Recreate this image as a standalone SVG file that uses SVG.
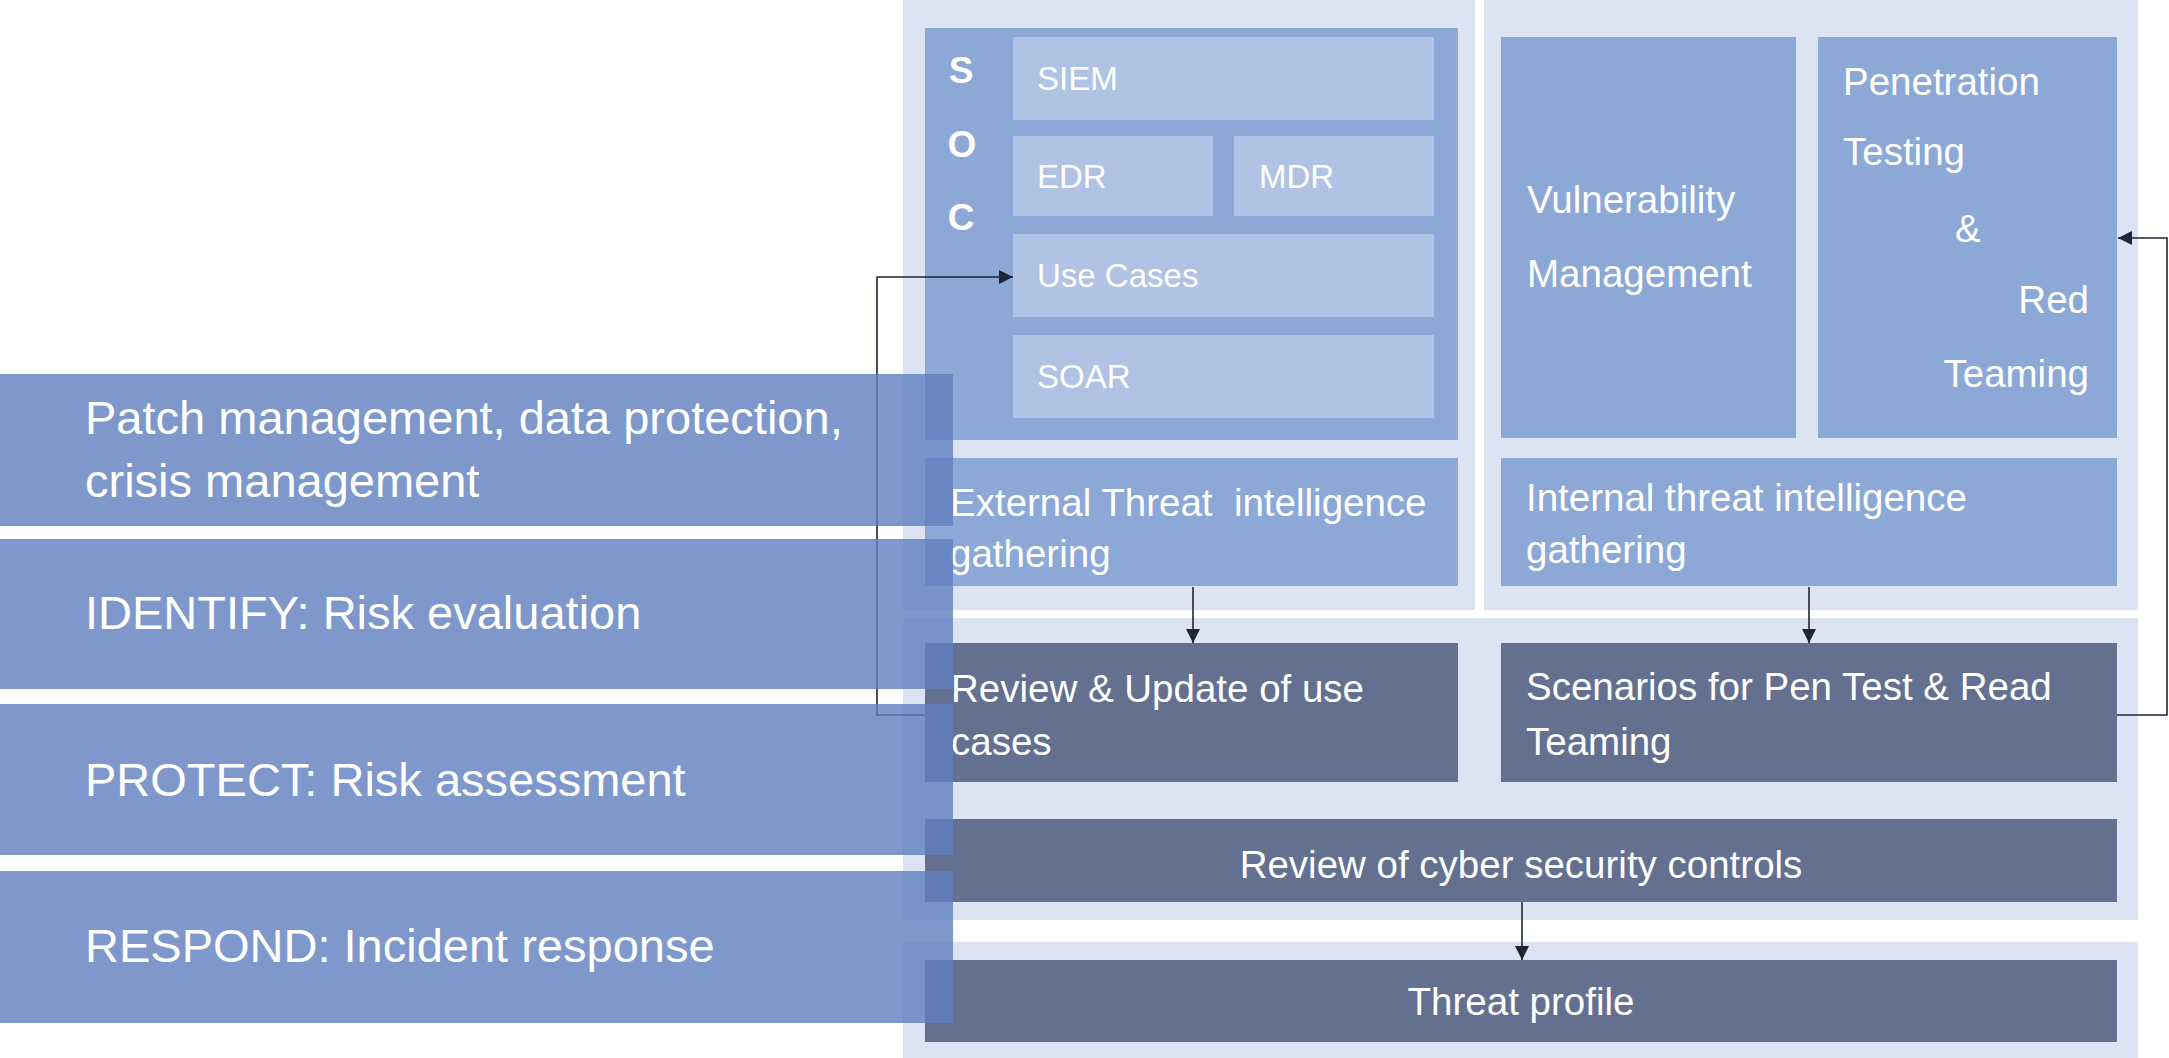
<svg xmlns="http://www.w3.org/2000/svg" width="2169" height="1058" viewBox="0 0 2169 1058">
<defs>
<style>
.panel{fill:#dce3f2}
.blue{fill:#8ca8d7}
.inner{fill:#b0c3e5}
.gray{fill:#63708f}
.t{font-family:"Liberation Sans",Arial,sans-serif;fill:#ffffff}
.t38{font-size:38.5px}
.t33{font-size:33px}
.soc{font-size:37px;font-weight:bold;text-anchor:middle}
.band{fill:#5f7ebe;fill-opacity:0.8}
.bt{font-family:"Liberation Sans",Arial,sans-serif;fill:#ffffff;font-size:47px}
.conn{fill:none;stroke:#1e2536;stroke-width:1.6}
</style>
<marker id="arr" viewBox="0 0 10 10" refX="10" refY="5" markerWidth="15" markerHeight="14" markerUnits="userSpaceOnUse" orient="auto">
<path d="M0,0 L10,5 L0,10 z" fill="#1e2536"/>
</marker>
</defs>
<rect width="2169" height="1058" fill="#ffffff"/>

<g id="panels">
<rect class="panel" x="903" y="0" width="572" height="610"/>
<rect class="panel" x="1484" y="0" width="654" height="610"/>
<rect class="panel" x="903" y="618" width="1235" height="302"/>
<rect class="panel" x="903" y="942" width="1235" height="116"/>
</g>

<g id="soc">
<rect class="blue" x="925" y="28" width="533" height="412"/>
<text class="t soc" x="961" y="83">S</text>
<text class="t soc" x="962" y="157">O</text>
<text class="t soc" x="961" y="230">C</text>
</g>
<g id="siem">
<rect class="inner" x="1013" y="37" width="421" height="83"/>
<text class="t t33" x="1037" y="90">SIEM</text>
</g>
<g id="edr">
<rect class="inner" x="1013" y="136" width="200" height="80"/>
<text class="t t33" x="1037" y="188">EDR</text>
</g>
<g id="mdr">
<rect class="inner" x="1234" y="136" width="200" height="80"/>
<text class="t t33" x="1259" y="188">MDR</text>
</g>
<g id="usecases">
<rect class="inner" x="1013" y="234" width="421" height="83"/>
<text class="t t33" x="1037" y="287">Use Cases</text>
</g>
<g id="soar">
<rect class="inner" x="1013" y="335" width="421" height="83"/>
<text class="t t33" x="1037" y="388">SOAR</text>
</g>
<g id="external">
<rect class="blue" x="925" y="458" width="533" height="128"/>
<text class="t t38" x="950" y="516" xml:space="preserve">External Threat  intelligence</text>
<text class="t t38" x="950" y="567">gathering</text>
</g>

<g id="vuln">
<rect class="blue" x="1501" y="37" width="295" height="401"/>
<text class="t t38" x="1527" y="213">Vulnerability</text>
<text class="t t38" x="1527" y="287">Management</text>
</g>
<g id="pentest">
<rect class="blue" x="1818" y="37" width="299" height="401"/>
<text class="t t38" x="1843" y="95">Penetration</text>
<text class="t t38" x="1843" y="165">Testing</text>
<text class="t t38" x="1955" y="242">&amp;</text>
<text class="t t38" x="2089" y="313" text-anchor="end">Red</text>
<text class="t t38" x="2089" y="387" text-anchor="end">Teaming</text>
</g>
<g id="internal">
<rect class="blue" x="1501" y="458" width="616" height="128"/>
<text class="t t38" x="1526" y="511">Internal threat intelligence</text>
<text class="t t38" x="1526" y="563">gathering</text>
</g>

<g id="review-usecases">
<rect class="gray" x="925" y="643" width="533" height="139"/>
<text class="t t38" x="951" y="702">Review &amp; Update of use</text>
<text class="t t38" x="951" y="755">cases</text>
</g>
<g id="scenarios">
<rect class="gray" x="1501" y="643" width="616" height="139"/>
<text class="t t38" x="1526" y="700">Scenarios for Pen Test &amp; Read</text>
<text class="t t38" x="1526" y="755">Teaming</text>
</g>
<g id="review-controls">
<rect class="gray" x="925" y="819" width="1192" height="83"/>
<text class="t t38" x="1521" y="878" text-anchor="middle">Review of cyber security controls</text>
</g>
<g id="threat-profile">
<rect class="gray" x="925" y="960" width="1192" height="82"/>
<text class="t t38" x="1521" y="1015" text-anchor="middle">Threat profile</text>
</g>

<g id="connectors">
<path class="conn" d="M925,715 H877 V277 H1013" marker-end="url(#arr)"/>
<path class="conn" d="M1193,587 V643" marker-end="url(#arr)"/>
<path class="conn" d="M1809,587 V643" marker-end="url(#arr)"/>
<path class="conn" d="M2117,715 H2167 V238 H2118" marker-end="url(#arr)"/>
<path class="conn" d="M1522,902 V960" marker-end="url(#arr)"/>
</g>

<g id="band-patch">
<rect class="band" x="0" y="374" width="953" height="152"/>
<text class="bt" x="85" y="434">Patch management, data protection,</text>
<text class="bt" x="85" y="497">crisis management</text>
</g>
<g id="band-identify">
<rect class="band" x="0" y="539" width="953" height="150"/>
<text class="bt" x="85" y="629">IDENTIFY: Risk evaluation</text>
</g>
<g id="band-protect">
<rect class="band" x="0" y="704" width="953" height="151"/>
<text class="bt" x="85" y="796">PROTECT: Risk assessment</text>
</g>
<g id="band-respond">
<rect class="band" x="0" y="871" width="953" height="152"/>
<text class="bt" x="85" y="962">RESPOND: Incident response</text>
</g>
</svg>
